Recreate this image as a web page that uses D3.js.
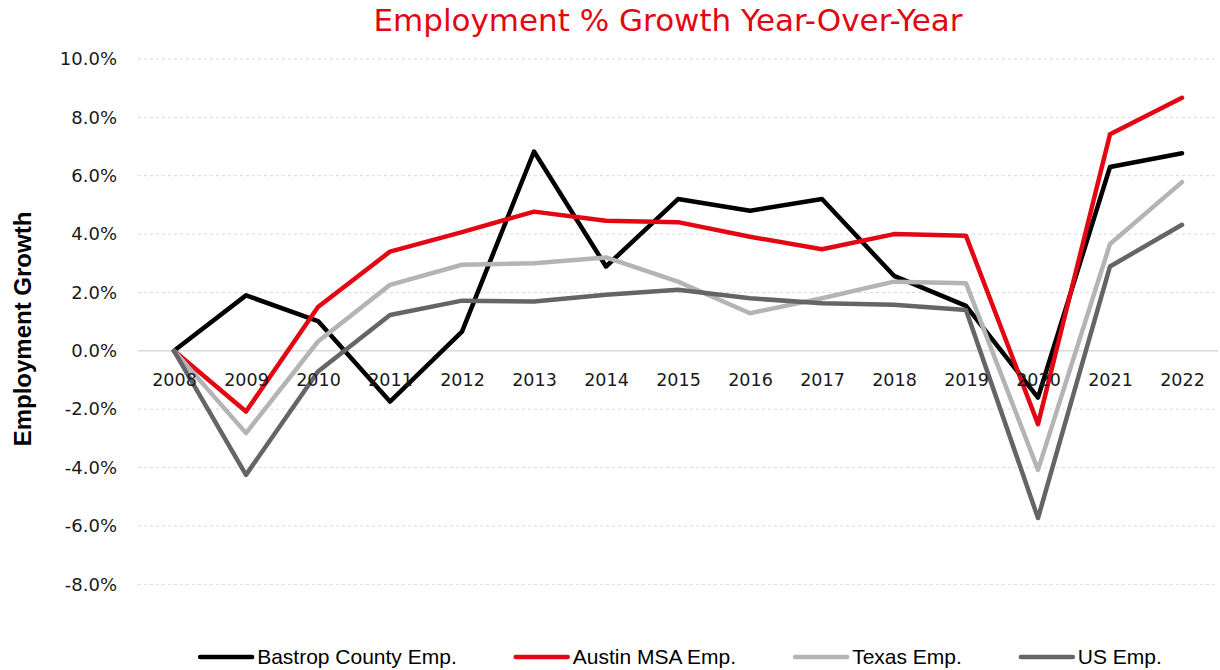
<!DOCTYPE html>
<html>
<head>
<meta charset="utf-8">
<script src="https://cdn.jsdelivr.net/npm/d3@7"></script>
<style>
  html, body { margin: 0; padding: 0; background: #ffffff; }
  svg { display: block; }
</style>
</head>
<body>
<svg id="chart" width="1220" height="670"></svg>
<script>
// Year-over-year employment growth, percent
const years = ["2008","2009","2010","2011","2012","2013","2014","2015","2016","2017","2018","2019","2020","2021","2022"];
const bastrop = [0, 1.90, 1.02, -1.74, 0.66, 6.83, 2.89, 5.20, 4.80, 5.20, 2.57, 1.54, -1.60, 6.30, 6.77];
const austin  = [0, -2.08, 1.50, 3.40, 4.07, 4.77, 4.46, 4.41, 3.91, 3.48, 4.00, 3.94, -2.51, 7.42, 8.67];
const texas   = [0, -2.82, 0.32, 2.26, 2.95, 3.00, 3.20, 2.37, 1.29, 1.80, 2.37, 2.32, -4.08, 3.66, 5.78];
const us      = [0, -4.25, -0.71, 1.23, 1.72, 1.69, 1.92, 2.09, 1.80, 1.63, 1.58, 1.40, -5.73, 2.89, 4.32];
const yTicks  = [-8, -6, -4, -2, 0, 2, 4, 6, 8, 10];

const seriesNames  = ["Bastrop County Emp.", "Austin MSA Emp.", "Texas Emp.", "US Emp."];
const seriesColors = ["#000000", "#e30613", "#b4b4b4", "#646469"];
const seriesValues = [bastrop, austin, texas, us];

const series = seriesNames.map((name, i) => ({ name, color: seriesColors[i], values: seriesValues[i] }));

const svg = d3.select("#chart");
const plot = { left: 138, right: 1218, top: 59, bottom: 584.3 };

const x = d3.scalePoint().domain(years).range([plot.left, plot.right]).padding(0.5);
const y = d3.scaleLinear().domain([-8, 10]).range([plot.bottom, plot.top]);

// Title
svg.append("text")
  .attr("x", 668).attr("y", 31)
  .attr("text-anchor", "middle")
  .attr("font-family", "DejaVu Sans, Verdana, sans-serif")
  .attr("font-size", 31)
  .attr("fill", "#e30613")
  .text("Employment % Growth Year-Over-Year");

// Horizontal gridlines
svg.append("g")
  .selectAll("line")
  .data(yTicks.filter(d => d !== 0))
  .join("line")
  .attr("x1", plot.left).attr("x2", plot.right)
  .attr("y1", d => y(d)).attr("y2", d => y(d))
  .attr("stroke", "#d9d9d9")
  .attr("stroke-width", 1)
  .attr("stroke-dasharray", "3,3");

// Zero baseline
svg.append("line")
  .attr("x1", plot.left).attr("x2", plot.right)
  .attr("y1", y(0)).attr("y2", y(0))
  .attr("stroke", "#d9d9d9")
  .attr("stroke-width", 1.5);

// Y axis labels
const yAxis = svg.append("g")
  .attr("transform", `translate(${plot.left},0)`)
  .call(d3.axisLeft(y).tickValues(yTicks).tickSize(0).tickPadding(21)
    .tickFormat(d => d.toFixed(1) + "%"));
yAxis.select(".domain").remove();
yAxis.selectAll("text")
  .attr("font-family", "DejaVu Sans, Verdana, sans-serif")
  .attr("font-size", 18)
  .attr("fill", "#1a1a1a");

// Y axis title
svg.append("text")
  .attr("transform", "translate(31,329) rotate(-90)")
  .attr("text-anchor", "middle")
  .attr("font-family", "Liberation Sans, Arial, sans-serif")
  .attr("font-weight", "bold")
  .attr("font-size", 24)
  .attr("fill", "#000")
  .text("Employment Growth");

// Lines
const line = d3.line()
  .x((d, i) => x(years[i]))
  .y(d => y(d));

svg.append("g")
  .selectAll("path")
  .data(series)
  .join("path")
  .attr("d", d => line(d.values))
  .attr("fill", "none")
  .attr("stroke", d => d.color)
  .attr("stroke-width", 4.5)
  .attr("stroke-linejoin", "round")
  .attr("stroke-linecap", "round");

// X axis labels (drawn over the lines)
const xAxis = svg.append("g")
  .attr("transform", `translate(0,${y(0)})`)
  .call(d3.axisBottom(x).tickSize(0).tickPadding(22.5));
xAxis.select(".domain").remove();
xAxis.selectAll("text")
  .attr("font-family", "DejaVu Sans, Verdana, sans-serif")
  .attr("font-size", 17.5)
  .attr("fill", "#1a1a1a");

// Legend
const legend = svg.append("g");
const swatch = 52, swatchGap = 5, itemGap = 59, legendY = 657;
const items = legend.selectAll("g")
  .data(series)
  .join("g");
items.append("line")
  .attr("x1", 0).attr("x2", swatch)
  .attr("y1", 0).attr("y2", 0)
  .attr("stroke", d => d.color)
  .attr("stroke-width", 4.5)
  .attr("stroke-linecap", "round");
items.append("text")
  .attr("x", swatch + swatchGap)
  .attr("y", 0)
  .attr("dy", "0.35em")
  .attr("font-family", "Liberation Sans, Arial, sans-serif")
  .attr("font-size", 21)
  .attr("fill", "#000")
  .text(d => d.name);

const widths = [];
items.each(function() {
  widths.push(swatch + swatchGap + this.querySelector("text").getComputedTextLength());
});
const total = d3.sum(widths) + itemGap * (widths.length - 1);
let cursor = 681 - total / 2;
items.attr("transform", (d, i) => {
  const t = `translate(${cursor},${legendY})`;
  cursor += widths[i] + itemGap;
  return t;
});
</script>
</body>
</html>
